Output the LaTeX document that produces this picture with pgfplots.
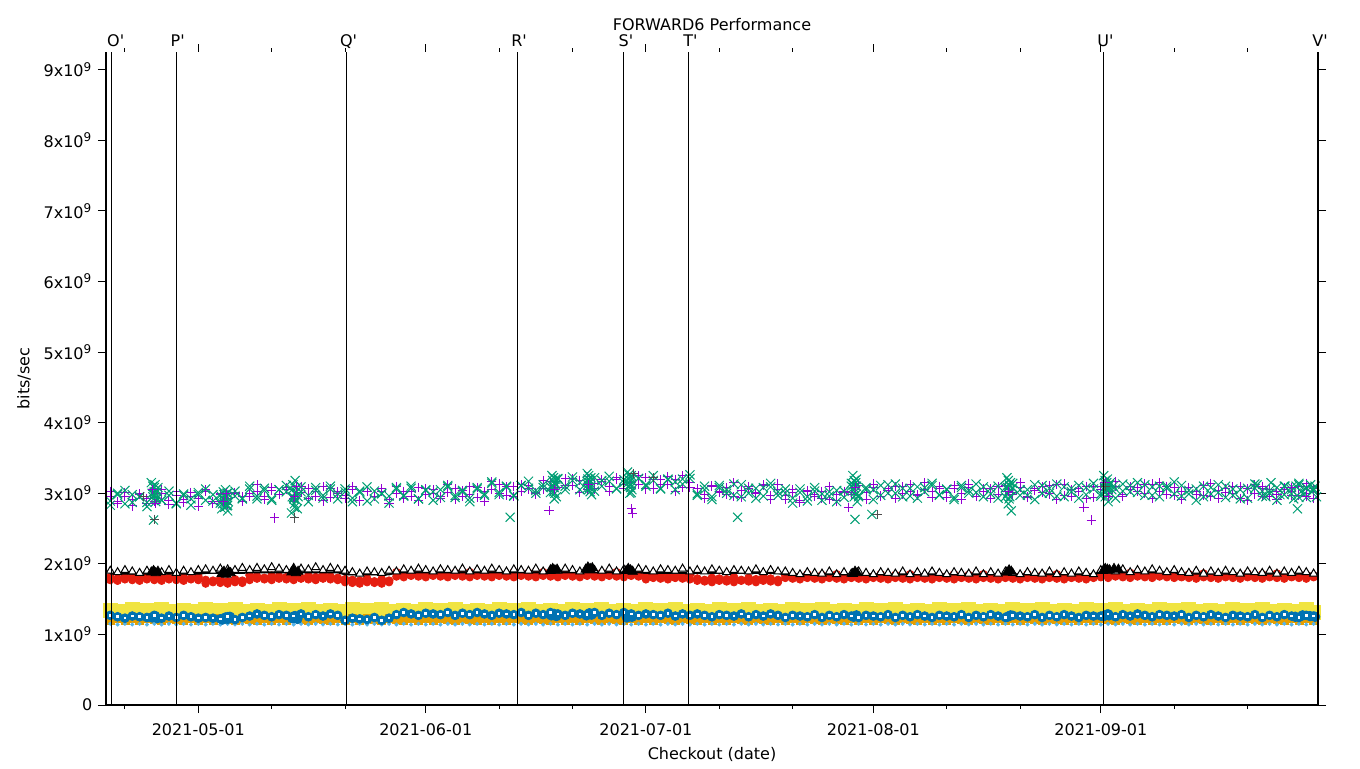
\documentclass[border=0pt]{standalone}
\usepackage{fontspec}
\setmainfont{DejaVu Sans}
\usepackage{pgfplots}
\pgfplotsset{compat=1.18}
\usepackage{pgfplotstable}
\usetikzlibrary{calc}

\definecolor{gpurple}{HTML}{9400D3}
\definecolor{gteal}{HTML}{009E73}
\definecolor{gsky}{HTML}{56B4E9}
\definecolor{gorange}{HTML}{E69F00}
\definecolor{gyellow}{HTML}{F0E442}
\definecolor{gblue}{HTML}{0072B2}
\definecolor{gred}{HTML}{E51E10}

% day of year 2021, values in units of 1e9 bits/sec
\pgfplotstableread{
d pu te tr ln rd ye or lb bl
109 2.96 2.89 1.90 1.86 1.81 1.34 1.20 1.15 1.27
110 2.88 3.00 1.88 1.86 1.79 1.33 1.22 1.14 1.25
111 3.01 2.85 1.91 1.86 1.82 1.32 1.20 1.15 1.23
112 2.91 2.98 1.89 1.86 1.81 1.35 1.22 1.14 1.26
113 2.98 2.95 1.87 1.86 1.80 1.31 1.20 1.15 1.25
114 2.85 2.87 1.90 1.86 1.83 1.34 1.22 1.14 1.24
115 2.94 3.02 1.89 1.86 1.79 1.32 1.21 1.15 1.27
116 2.99 2.90 1.88 1.86 1.82 1.35 1.20 1.14 1.23
117 2.89 2.97 1.91 1.86 1.80 1.33 1.22 1.15 1.26
118 3.02 2.86 1.87 1.86 1.83 1.31 1.21 1.14 1.24
119 2.87 2.99 1.90 1.86 1.81 1.34 1.20 1.15 1.27
120 2.95 2.92 1.88 1.86 1.79 1.33 1.22 1.14 1.25
121 2.92 3.01 1.91 1.86 1.82 1.32 1.20 1.15 1.23
122 3.02 2.90 1.92 1.87 1.77 1.35 1.22 1.14 1.24
123 2.86 2.98 1.90 1.87 1.76 1.31 1.20 1.15 1.23
124 2.99 2.86 1.93 1.87 1.79 1.34 1.22 1.14 1.22
125 2.92 3.00 1.92 1.87 1.75 1.32 1.21 1.15 1.25
126 3.00 2.96 1.91 1.87 1.78 1.35 1.20 1.14 1.21
127 2.88 2.93 1.94 1.87 1.76 1.33 1.22 1.15 1.24
128 3.00 3.06 1.91 1.88 1.84 1.31 1.21 1.14 1.26
129 3.03 2.96 1.94 1.88 1.82 1.34 1.20 1.15 1.29
130 2.95 3.07 1.92 1.88 1.80 1.33 1.22 1.14 1.27
131 3.08 2.92 1.95 1.88 1.83 1.32 1.20 1.15 1.25
132 2.98 3.05 1.93 1.88 1.82 1.35 1.22 1.14 1.28
133 3.05 3.02 1.91 1.88 1.81 1.31 1.20 1.15 1.27
134 2.92 2.94 1.94 1.88 1.84 1.34 1.22 1.14 1.26
135 3.01 3.09 1.93 1.88 1.80 1.32 1.21 1.15 1.29
136 3.06 2.97 1.92 1.88 1.83 1.35 1.20 1.14 1.25
137 2.96 3.04 1.95 1.88 1.81 1.33 1.22 1.15 1.28
138 3.09 2.93 1.91 1.88 1.84 1.31 1.21 1.14 1.26
139 2.94 3.06 1.94 1.88 1.82 1.34 1.20 1.15 1.29
140 3.02 2.99 1.92 1.88 1.80 1.33 1.22 1.14 1.27
141 2.97 3.06 1.90 1.85 1.78 1.32 1.20 1.15 1.20
142 3.05 2.93 1.88 1.85 1.77 1.35 1.22 1.14 1.23
143 2.89 3.01 1.86 1.85 1.76 1.31 1.20 1.15 1.22
144 3.02 2.89 1.89 1.85 1.79 1.34 1.22 1.14 1.21
145 2.95 3.03 1.88 1.85 1.75 1.32 1.21 1.15 1.24
146 3.03 2.99 1.87 1.85 1.78 1.35 1.20 1.14 1.20
147 2.91 2.96 1.90 1.85 1.76 1.33 1.22 1.15 1.23
148 3.00 3.06 1.89 1.88 1.88 1.31 1.21 1.14 1.28
149 3.03 2.96 1.92 1.88 1.86 1.34 1.20 1.15 1.31
150 2.95 3.07 1.90 1.88 1.84 1.33 1.22 1.14 1.29
151 3.08 2.92 1.93 1.88 1.87 1.32 1.20 1.15 1.27
152 2.98 3.05 1.91 1.88 1.86 1.35 1.22 1.14 1.30
153 3.05 3.02 1.89 1.88 1.85 1.31 1.20 1.15 1.29
154 2.92 2.94 1.92 1.88 1.88 1.34 1.22 1.14 1.28
155 3.01 3.09 1.91 1.88 1.84 1.32 1.21 1.15 1.31
156 3.06 2.97 1.90 1.88 1.87 1.35 1.20 1.14 1.27
157 2.96 3.04 1.93 1.88 1.85 1.33 1.22 1.15 1.30
158 3.09 2.93 1.89 1.88 1.88 1.31 1.21 1.14 1.28
159 2.94 3.06 1.92 1.88 1.86 1.34 1.20 1.15 1.31
160 3.02 2.99 1.90 1.88 1.84 1.33 1.22 1.14 1.29
161 3.05 3.14 1.93 1.88 1.87 1.32 1.20 1.15 1.27
162 3.13 3.01 1.91 1.88 1.86 1.35 1.22 1.14 1.30
163 2.97 3.09 1.89 1.88 1.85 1.31 1.20 1.15 1.29
164 3.10 2.97 1.92 1.88 1.88 1.34 1.22 1.14 1.28
165 3.03 3.11 1.91 1.88 1.84 1.32 1.21 1.15 1.31
166 3.11 3.07 1.90 1.88 1.87 1.35 1.20 1.14 1.27
167 2.99 3.04 1.93 1.88 1.85 1.33 1.22 1.15 1.30
168 3.06 3.12 1.89 1.88 1.88 1.31 1.21 1.14 1.28
169 3.16 3.09 1.92 1.88 1.86 1.34 1.20 1.15 1.31
170 3.08 3.20 1.90 1.88 1.84 1.33 1.22 1.14 1.29
171 3.21 3.05 1.93 1.88 1.87 1.32 1.20 1.15 1.27
172 3.11 3.18 1.91 1.88 1.86 1.35 1.22 1.14 1.30
173 3.18 3.15 1.89 1.88 1.85 1.31 1.20 1.15 1.29
174 3.05 3.07 1.92 1.88 1.88 1.34 1.22 1.14 1.28
175 3.14 3.22 1.91 1.88 1.84 1.32 1.21 1.15 1.31
176 3.19 3.10 1.90 1.88 1.87 1.35 1.20 1.14 1.27
177 3.09 3.17 1.93 1.88 1.85 1.33 1.22 1.15 1.30
178 3.22 3.06 1.89 1.88 1.88 1.31 1.21 1.14 1.28
179 3.07 3.19 1.92 1.88 1.86 1.34 1.20 1.15 1.31
180 3.15 3.12 1.90 1.88 1.84 1.33 1.22 1.14 1.29
181 3.12 3.21 1.93 1.88 1.87 1.32 1.20 1.15 1.27
182 3.22 3.10 1.91 1.87 1.83 1.35 1.22 1.14 1.29
183 3.06 3.18 1.89 1.87 1.82 1.31 1.20 1.15 1.28
184 3.19 3.06 1.92 1.87 1.85 1.34 1.22 1.14 1.27
185 3.12 3.20 1.91 1.87 1.81 1.32 1.21 1.15 1.30
186 3.20 3.16 1.90 1.87 1.84 1.35 1.20 1.14 1.26
187 3.08 3.13 1.93 1.87 1.82 1.33 1.22 1.15 1.29
188 3.15 3.21 1.89 1.87 1.85 1.31 1.21 1.14 1.27
189 3.06 2.99 1.91 1.87 1.79 1.34 1.20 1.15 1.29
190 2.98 3.10 1.89 1.87 1.77 1.33 1.22 1.14 1.27
191 3.11 2.95 1.92 1.87 1.80 1.32 1.20 1.15 1.25
192 3.01 3.08 1.90 1.87 1.79 1.35 1.22 1.14 1.28
193 3.08 3.05 1.88 1.87 1.78 1.31 1.20 1.15 1.27
194 2.95 2.97 1.91 1.87 1.81 1.34 1.22 1.14 1.26
195 3.04 3.12 1.90 1.87 1.77 1.32 1.21 1.15 1.29
196 3.09 3.00 1.89 1.87 1.80 1.35 1.20 1.14 1.25
197 2.99 3.07 1.92 1.87 1.78 1.33 1.22 1.15 1.28
198 3.12 2.96 1.88 1.87 1.81 1.31 1.21 1.14 1.26
199 2.97 3.09 1.91 1.87 1.79 1.34 1.20 1.15 1.29
200 3.05 3.02 1.89 1.87 1.77 1.33 1.22 1.14 1.27
201 2.97 3.06 1.89 1.85 1.84 1.32 1.20 1.15 1.24
202 3.05 2.93 1.87 1.85 1.83 1.35 1.22 1.14 1.27
203 2.89 3.01 1.85 1.85 1.82 1.31 1.20 1.15 1.26
204 3.02 2.89 1.88 1.85 1.85 1.34 1.22 1.14 1.25
205 2.95 3.03 1.87 1.85 1.81 1.32 1.21 1.15 1.28
206 3.03 2.99 1.86 1.85 1.84 1.35 1.20 1.14 1.24
207 2.91 2.96 1.89 1.85 1.82 1.33 1.22 1.15 1.27
208 2.98 3.04 1.85 1.85 1.85 1.31 1.21 1.14 1.25
209 3.01 2.94 1.88 1.85 1.83 1.34 1.20 1.15 1.28
210 2.98 3.10 1.86 1.85 1.81 1.33 1.22 1.14 1.26
211 3.11 2.95 1.89 1.85 1.84 1.32 1.20 1.15 1.24
212 3.01 3.08 1.87 1.85 1.83 1.35 1.22 1.14 1.27
213 3.08 3.05 1.85 1.85 1.82 1.31 1.20 1.15 1.26
214 2.95 2.97 1.88 1.85 1.85 1.34 1.22 1.14 1.25
215 3.04 3.12 1.87 1.85 1.81 1.32 1.21 1.15 1.28
216 3.09 3.00 1.86 1.85 1.84 1.35 1.20 1.14 1.24
217 2.99 3.07 1.89 1.85 1.82 1.33 1.22 1.15 1.27
218 3.12 2.96 1.85 1.85 1.85 1.31 1.21 1.14 1.25
219 2.97 3.09 1.88 1.85 1.83 1.34 1.20 1.15 1.28
220 3.05 3.02 1.86 1.85 1.81 1.33 1.22 1.14 1.26
221 3.02 3.11 1.89 1.85 1.84 1.32 1.20 1.15 1.24
222 3.10 2.98 1.87 1.85 1.83 1.35 1.22 1.14 1.27
223 2.94 3.06 1.85 1.85 1.82 1.31 1.20 1.15 1.26
224 3.07 2.94 1.88 1.85 1.85 1.34 1.22 1.14 1.25
225 3.00 3.08 1.87 1.85 1.81 1.32 1.21 1.15 1.28
226 3.08 3.04 1.86 1.85 1.84 1.35 1.20 1.14 1.24
227 2.96 3.01 1.89 1.85 1.82 1.33 1.22 1.15 1.27
228 3.03 3.09 1.85 1.85 1.85 1.31 1.21 1.14 1.25
229 3.06 2.99 1.88 1.85 1.83 1.34 1.20 1.15 1.28
230 2.98 3.10 1.86 1.85 1.81 1.33 1.22 1.14 1.26
231 3.11 2.95 1.89 1.85 1.84 1.32 1.20 1.15 1.24
232 3.01 3.08 1.87 1.85 1.83 1.35 1.22 1.14 1.27
233 3.08 3.05 1.85 1.85 1.82 1.31 1.20 1.15 1.26
234 2.95 2.97 1.88 1.85 1.85 1.34 1.22 1.14 1.25
235 3.04 3.12 1.87 1.85 1.81 1.32 1.21 1.15 1.28
236 3.09 3.00 1.86 1.85 1.84 1.35 1.20 1.14 1.24
237 2.99 3.07 1.89 1.85 1.82 1.33 1.22 1.15 1.27
238 3.12 2.96 1.85 1.85 1.85 1.31 1.21 1.14 1.25
239 2.97 3.09 1.88 1.85 1.83 1.34 1.20 1.15 1.28
240 3.05 3.02 1.86 1.85 1.81 1.33 1.22 1.14 1.26
241 3.02 3.11 1.89 1.85 1.84 1.32 1.20 1.15 1.24
242 3.10 2.98 1.87 1.85 1.83 1.35 1.22 1.14 1.27
243 2.94 3.06 1.85 1.85 1.82 1.31 1.20 1.15 1.26
244 3.09 2.96 1.91 1.88 1.87 1.34 1.22 1.14 1.26
245 3.02 3.10 1.90 1.88 1.83 1.32 1.21 1.15 1.29
246 3.10 3.06 1.89 1.88 1.86 1.35 1.20 1.14 1.25
247 2.98 3.03 1.92 1.88 1.84 1.33 1.22 1.15 1.28
248 3.05 3.11 1.88 1.88 1.87 1.31 1.21 1.14 1.26
249 3.08 3.01 1.91 1.88 1.85 1.34 1.20 1.15 1.29
250 3.00 3.12 1.89 1.88 1.83 1.33 1.22 1.14 1.27
251 3.13 2.97 1.92 1.88 1.86 1.32 1.20 1.15 1.25
252 3.03 3.10 1.90 1.88 1.85 1.35 1.22 1.14 1.28
253 3.10 3.07 1.88 1.88 1.84 1.31 1.20 1.15 1.27
254 2.97 2.99 1.91 1.88 1.87 1.34 1.22 1.14 1.26
255 3.03 3.11 1.88 1.86 1.82 1.32 1.21 1.15 1.28
256 3.08 2.99 1.87 1.86 1.85 1.35 1.20 1.14 1.24
257 2.98 3.06 1.90 1.86 1.83 1.33 1.22 1.15 1.27
258 3.11 2.95 1.86 1.86 1.86 1.31 1.21 1.14 1.25
259 2.96 3.08 1.89 1.86 1.84 1.34 1.20 1.15 1.28
260 3.04 3.01 1.87 1.86 1.82 1.33 1.22 1.14 1.26
261 3.01 3.10 1.90 1.86 1.85 1.32 1.20 1.15 1.24
262 3.09 2.97 1.88 1.86 1.84 1.35 1.22 1.14 1.27
263 2.93 3.05 1.86 1.86 1.83 1.31 1.20 1.15 1.26
264 3.06 2.93 1.89 1.86 1.86 1.34 1.22 1.14 1.25
265 2.99 3.07 1.88 1.86 1.82 1.32 1.21 1.15 1.28
266 3.07 3.03 1.87 1.86 1.85 1.35 1.20 1.14 1.24
267 2.95 3.00 1.90 1.86 1.83 1.33 1.22 1.15 1.27
268 3.02 3.08 1.86 1.86 1.86 1.31 1.21 1.14 1.25
269 3.05 2.98 1.89 1.86 1.84 1.34 1.20 1.15 1.28
270 2.97 3.09 1.87 1.86 1.82 1.33 1.22 1.14 1.26
271 3.10 2.94 1.90 1.86 1.85 1.32 1.20 1.15 1.24
272 3.00 3.07 1.88 1.86 1.84 1.35 1.22 1.14 1.27
273 3.07 3.04 1.86 1.86 1.83 1.31 1.20 1.15 1.26
274 2.94 2.96 1.89 1.86 1.86 1.34 1.22 1.14 1.25
}\daily

% second run of each day
\pgfplotstableread{
d pu te rd
109 3.03 2.83 1.77
110 2.86 2.98 1.76
111 2.96 3.04 1.78
112 2.82 2.87 1.77
113 2.99 2.95 1.76
114 2.93 2.81 1.78
115 2.88 3.01 1.77
116 3.05 2.90 1.76
117 2.84 3.03 1.78
118 2.97 2.85 1.77
119 2.91 2.97 1.76
120 3.01 2.83 1.78
121 2.81 2.98 1.77
122 3.05 3.06 1.72
123 2.88 2.89 1.74
124 2.98 2.97 1.73
125 2.84 2.83 1.72
126 3.01 3.03 1.74
127 2.95 2.92 1.73
128 2.95 3.10 1.77
129 3.12 2.92 1.79
130 2.91 3.04 1.78
131 3.04 2.90 1.77
132 2.98 3.05 1.79
133 3.08 3.11 1.78
134 2.88 2.94 1.77
135 3.10 3.02 1.79
136 2.93 2.88 1.78
137 3.03 3.08 1.77
138 2.89 2.97 1.79
139 3.06 3.10 1.78
140 3.00 2.92 1.77
141 2.93 3.02 1.74
142 3.10 2.88 1.73
143 2.89 3.03 1.72
144 3.02 3.09 1.74
145 2.96 2.92 1.73
146 3.06 3.00 1.72
147 2.86 2.86 1.74
148 3.10 3.08 1.82
149 2.93 2.97 1.81
150 3.03 3.10 1.83
151 2.89 2.92 1.82
152 3.06 3.04 1.81
153 3.00 2.90 1.83
154 2.95 3.05 1.82
155 3.12 3.11 1.81
156 2.91 2.94 1.83
157 3.04 3.02 1.82
158 2.98 2.88 1.81
159 3.08 3.08 1.83
160 2.88 2.97 1.82
161 3.16 3.16 1.81
162 2.99 2.98 1.83
163 3.09 3.10 1.82
164 2.95 2.96 1.81
165 3.12 3.11 1.83
166 3.06 3.17 1.82
167 3.01 3.00 1.81
168 3.18 3.08 1.83
169 3.04 3.01 1.82
170 3.17 3.21 1.81
171 3.11 3.10 1.83
172 3.21 3.23 1.82
173 3.01 3.05 1.81
174 3.23 3.17 1.83
175 3.06 3.03 1.82
176 3.16 3.18 1.81
177 3.02 3.24 1.83
178 3.19 3.07 1.82
179 3.13 3.15 1.81
180 3.08 3.01 1.83
181 3.25 3.21 1.82
182 3.06 3.12 1.78
183 3.19 3.25 1.80
184 3.13 3.07 1.79
185 3.23 3.19 1.78
186 3.03 3.05 1.80
187 3.25 3.20 1.79
188 3.08 3.26 1.78
189 3.06 2.97 1.76
190 2.92 3.05 1.75
191 3.09 2.91 1.74
192 3.03 3.11 1.76
193 2.98 3.00 1.75
194 3.15 3.13 1.74
195 2.94 2.95 1.76
196 3.07 3.07 1.75
197 3.01 2.93 1.74
198 3.11 3.08 1.76
199 2.91 3.14 1.75
200 3.13 2.97 1.74
201 2.91 3.00 1.80
202 3.01 2.86 1.79
203 2.87 3.06 1.78
204 3.04 2.95 1.80
205 2.98 3.08 1.79
206 2.93 2.90 1.78
207 3.10 3.02 1.80
208 2.89 2.88 1.79
209 3.02 3.03 1.78
210 3.01 3.14 1.80
211 3.11 2.97 1.79
212 2.91 3.05 1.78
213 3.13 2.91 1.80
214 2.96 3.11 1.79
215 3.06 3.00 1.78
216 2.92 3.13 1.80
217 3.09 2.95 1.79
218 3.03 3.07 1.78
219 2.98 2.93 1.80
220 3.15 3.08 1.79
221 2.94 3.14 1.78
222 3.07 2.97 1.80
223 3.01 3.05 1.79
224 3.11 2.91 1.78
225 2.91 3.11 1.80
226 3.13 3.00 1.79
227 2.96 3.13 1.78
228 3.06 2.95 1.80
229 2.92 3.07 1.79
230 3.09 2.93 1.78
231 3.03 3.08 1.80
232 2.98 3.14 1.79
233 3.15 2.97 1.78
234 2.94 3.05 1.80
235 3.07 2.91 1.79
236 3.01 3.11 1.78
237 3.11 3.00 1.80
238 2.91 3.13 1.79
239 3.13 2.95 1.78
240 2.96 3.07 1.80
241 3.06 2.93 1.79
242 2.92 3.08 1.78
243 3.09 3.14 1.80
244 3.05 2.99 1.81
245 3.00 3.07 1.80
246 3.17 2.93 1.82
247 2.96 3.13 1.81
248 3.09 3.02 1.80
249 3.03 3.15 1.82
250 3.13 2.97 1.81
251 2.93 3.09 1.80
252 3.15 2.95 1.82
253 2.98 3.10 1.81
254 3.08 3.16 1.80
255 2.91 2.96 1.81
256 3.08 3.04 1.80
257 3.02 2.90 1.79
258 2.97 3.10 1.81
259 3.14 2.99 1.80
260 2.93 3.12 1.79
261 3.06 2.94 1.81
262 3.00 3.06 1.80
263 3.10 2.92 1.79
264 2.90 3.07 1.81
265 3.12 3.13 1.80
266 2.95 2.96 1.79
267 3.05 3.04 1.81
268 2.91 2.90 1.80
269 3.08 3.10 1.79
270 3.02 2.99 1.81
271 2.97 3.12 1.80
272 3.14 2.94 1.79
273 2.93 3.06 1.81
}\second

% extra teal points on days with many runs
\pgfplotstableread{
d v
114.6 3.15
114.8 2.95
115.0 3.08
115.2 2.88
115.4 3.02
114.9 2.62
115.1 3.12
115.3 2.92
114.7 3.00
115.0 2.98
115.3 3.05
114.8 3.10
115.2 2.95
115.5 3.08
124.2 2.78
124.4 3.02
124.6 2.85
124.8 2.95
125.0 2.75
124.3 2.92
124.7 3.05
124.9 2.82
124.3 2.85
124.5 2.98
124.7 2.90
124.9 3.00
125.1 2.88
124.6 2.80
133.7 2.72
133.9 3.12
134.1 2.85
134.3 3.02
134.5 2.78
133.8 2.95
134.2 3.18
134.4 2.90
133.8 3.05
134.0 2.92
134.2 3.00
134.4 3.08
134.6 2.95
134.1 2.80
163.5 2.66
169.2 3.25
169.4 3.02
169.6 3.15
169.8 2.95
169.3 3.10
169.7 3.20
169.5 2.92
169.3 3.18
169.5 3.08
169.7 3.12
169.4 3.22
169.6 3.00
174.0 3.28
174.2 3.05
174.4 3.18
174.6 2.98
174.1 3.12
174.5 3.22
174.3 3.08
174.1 3.20
174.3 3.15
174.5 3.10
174.2 3.25
174.4 3.02
179.5 3.30
179.7 3.10
179.9 3.22
180.1 3.05
179.6 3.15
180.0 3.25
179.8 3.00
179.6 3.20
179.8 3.12
180.0 3.18
179.7 3.26
179.9 3.08
194.5 2.66
210.2 3.25
210.4 2.95
210.6 3.15
210.8 2.88
210.3 3.08
210.7 3.20
210.5 2.63
210.3 3.12
210.5 3.02
210.7 3.10
210.4 3.18
210.6 2.98
212.8 2.70
231.2 3.22
231.4 2.85
231.6 3.10
231.8 2.75
231.3 3.00
231.7 3.15
231.5 2.92
231.3 3.08
231.5 3.12
231.7 3.05
231.4 3.18
231.6 2.95
244.4 3.25
244.6 2.95
244.8 3.15
245.0 2.88
244.5 3.08
244.9 3.20
244.7 3.02
245.2 3.12
245.5 3.05
244.5 3.15
244.7 3.10
244.9 3.05
244.6 3.18
244.8 2.98
245.3 3.15
245.7 3.10
265.3 3.12
266.5 2.95
267.2 3.15
268.4 2.98
269.1 3.10
270.3 2.92
270.8 2.78
271.0 3.14
271.8 3.00
272.6 3.12
273.4 2.95
270.0 3.05
270.6 3.10
271.3 3.02
272.0 3.08
272.9 3.04
273.2 3.10
}\tecl

% extra purple points
\pgfplotstableread{
d v
114.8 3.05
115.2 2.85
124.4 2.88
124.8 3.00
131.4 2.65
134.1 2.95
134.4 3.10
168.8 2.75
169.5 3.05
174.2 3.12
180.0 2.78
180.2 2.71
209.6 2.80
210.6 3.08
231.4 3.02
241.7 2.80
242.7 2.62
244.6 3.15
245.0 2.95
266.0 3.10
268.0 2.98
270.0 3.08
272.0 2.96
}\pucl

% sparse black points
\pgfplotstableread{
d v
113.5 2.95
115.0 2.63
134.1 2.65
180.3 3.28
183.0 3.22
213.5 2.70
244.6 3.10
}\bkx

% filled black triangles on busy days
\pgfplotstableread{
d v
114.6 1.88
114.9 1.90
115.2 1.87
115.5 1.89
124.2 1.86
124.5 1.89
124.8 1.85
125.1 1.88
125.4 1.87
133.7 1.88
134.0 1.91
134.3 1.87
134.6 1.89
169.0 1.90
169.3 1.93
169.6 1.91
169.9 1.92
173.8 1.92
174.1 1.95
174.4 1.93
174.7 1.94
179.3 1.90
179.6 1.93
179.9 1.91
180.2 1.89
210.2 1.86
210.5 1.89
210.8 1.87
231.2 1.88
231.5 1.91
231.8 1.89
244.3 1.90
244.6 1.93
244.9 1.92
245.2 1.91
245.8 1.93
246.4 1.92
}\bktri

% filled blue points on busy days
\pgfplotstableread{
d v
114.7 1.24
115.1 1.26
115.4 1.23
124.3 1.21
124.7 1.24
125.0 1.22
125.3 1.25
133.8 1.23
134.2 1.26
134.5 1.22
169.1 1.27
169.5 1.29
169.8 1.26
173.9 1.27
174.3 1.30
174.6 1.28
179.4 1.24
179.8 1.27
180.1 1.25
210.3 1.25
210.7 1.27
231.3 1.25
231.7 1.27
244.4 1.26
244.8 1.28
245.1 1.27
270.5 1.25
271.5 1.27
272.5 1.26
273.2 1.25
}\blcl

\begin{document}
\fontsize{8}{10}\selectfont
\begin{tikzpicture}
\useasboundingbox (-53pt,-31.5pt) rectangle (627pt,352.5pt);
\begin{axis}[
    at={(0pt,0pt)}, anchor=south west,
    scale only axis, width=606pt, height=326.5pt,
    xmin=108.42, xmax=273.6, ymin=0, ymax=9.25,
    clip mode=individual,
    axis line style={draw=none},
    tick align=outside,
    major tick length=4pt, minor tick length=2pt,
    tick style={black, line width=0.5pt},
    xtick={121,152,182,213,244},
    xticklabels={2021-05-01,2021-06-01,2021-07-01,2021-08-01,2021-09-01},
    minor xtick={111,131,141,162,172,192,202,223,233,254,264},
    ytick={0,1,2,3,4,5,6,7,8,9},
    yticklabels={0,1x10\textsuperscript{9},2x10\textsuperscript{9},3x10\textsuperscript{9},4x10\textsuperscript{9},5x10\textsuperscript{9},6x10\textsuperscript{9},7x10\textsuperscript{9},8x10\textsuperscript{9},9x10\textsuperscript{9}},
    tick label style={font=\fontsize{8}{10}\selectfont},
    xticklabel style={yshift=-2.5pt},
]
    % lower band
    \addplot[only marks, mark=square*, mark size=3.5pt, gyellow] table[x=d, y=ye] {\daily};
    \addplot[only marks, mark=square*, mark size=2pt, gorange] table[x=d, y=or] {\daily};
    \addplot[only marks, mark=*, mark size=0.8pt, gsky] table[x=d, y=lb] {\daily};
    \addplot[only marks, mark=*, mark size=2.2pt, gblue] table[x=d, y=bl] {\daily};
    \addplot[only marks, mark=*, mark size=2.4pt, gblue] table[x=d, y=v] {\blcl};
    \addplot[only marks, mark=square*, mark size=0.9pt, gblue, line width=0.5pt, mark options={fill=white}] table[x=d, y=bl] {\daily};
    % middle band
    \addplot[only marks, mark=*, mark size=1.9pt, gred] table[x=d, y=rd] {\second};
    \addplot[only marks, mark=*, mark size=2pt, gred] table[x=d, y=rd] {\daily};
    \addplot[black, line width=1pt, no marks] table[x=d, y=ln] {\daily};
    \addplot[only marks, mark=triangle*, mark size=2.3pt, black, line width=0.5pt, mark options={fill=white}] table[x=d, y=tr] {\daily};
    \addplot[only marks, mark=triangle*, mark size=2.7pt, black] table[x=d, y=v] {\bktri};
    % upper band
    \addplot[only marks, mark=+, mark size=2.3pt, gpurple, line width=0.5pt] table[x=d, y=pu] {\daily};
    \addplot[only marks, mark=+, mark size=2.3pt, gpurple, line width=0.5pt] table[x=d, y=pu] {\second};
    \addplot[only marks, mark=x, mark size=3.2pt, gteal, line width=0.5pt] table[x=d, y=te] {\daily};
    \addplot[only marks, mark=x, mark size=3.2pt, gteal, line width=0.5pt] table[x=d, y=te] {\second};
    \addplot[only marks, mark=x, mark size=3.2pt, gteal, line width=0.5pt] table[x=d, y=v] {\tecl};
    \addplot[only marks, mark=+, mark size=2.3pt, gpurple, line width=0.5pt] table[x=d, y=v] {\pucl};
    \addplot[only marks, mark=+, mark size=2.3pt, black!70, line width=0.5pt] table[x=d, y=v] {\bkx};

    % border: left and bottom only
    \draw[line width=0.7pt] (rel axis cs:0,1) -- (rel axis cs:0,0) -- (rel axis cs:1,0);

    % checkout markers
    \draw[line width=0.6pt] (axis cs:109.2,0) -- (axis cs:109.2,9.25);
    \draw[line width=0.6pt] (axis cs:118.06,0) -- (axis cs:118.06,9.25);
    \draw[line width=0.6pt] (axis cs:141.2,0) -- (axis cs:141.2,9.25);
    \draw[line width=0.6pt] (axis cs:164.45,0) -- (axis cs:164.45,9.25);
    \draw[line width=0.6pt] (axis cs:179.0,0) -- (axis cs:179.0,9.25);
    \draw[line width=0.6pt] (axis cs:187.8,0) -- (axis cs:187.8,9.25);
    \draw[line width=0.6pt] (axis cs:244.35,0) -- (axis cs:244.35,9.25);
    \draw[line width=0.6pt] (axis cs:273.6,0) -- (axis cs:273.6,9.25);
    \node[anchor=base, inner sep=0pt] at ($(axis cs:109.2,9.25)+(2pt,3pt)$) {O\textquotesingle};
    \node[anchor=base, inner sep=0pt] at ($(axis cs:118.06,9.25)+(0.5pt,3pt)$) {P\textquotesingle};
    \node[anchor=base, inner sep=0pt] at ($(axis cs:141.2,9.25)+(1pt,3pt)$) {Q\textquotesingle};
    \node[anchor=base, inner sep=0pt] at ($(axis cs:164.45,9.25)+(1pt,3pt)$) {R\textquotesingle};
    \node[anchor=base, inner sep=0pt] at ($(axis cs:179.0,9.25)+(1pt,3pt)$) {S\textquotesingle};
    \node[anchor=base, inner sep=0pt] at ($(axis cs:187.8,9.25)+(1pt,3pt)$) {T\textquotesingle};
    \node[anchor=base, inner sep=0pt] at ($(axis cs:244.35,9.25)+(1pt,3pt)$) {U\textquotesingle};
    \node[anchor=base, inner sep=0pt] at ($(axis cs:273.6,9.25)+(1pt,3pt)$) {V\textquotesingle};

    \node[anchor=base, inner sep=0pt] at ($(axis cs:191.01,9.25)+(0pt,11pt)$) {FORWARD6 Performance};
    \node[anchor=base, inner sep=0pt] at ($(axis cs:191.01,0)+(0pt,-27pt)$) {Checkout (date)};
    \node[rotate=90, inner sep=0pt] at ($(axis cs:108.42,4.625)+(-41pt,0pt)$) {bits/sec};
\end{axis}
\end{tikzpicture}
\end{document}
